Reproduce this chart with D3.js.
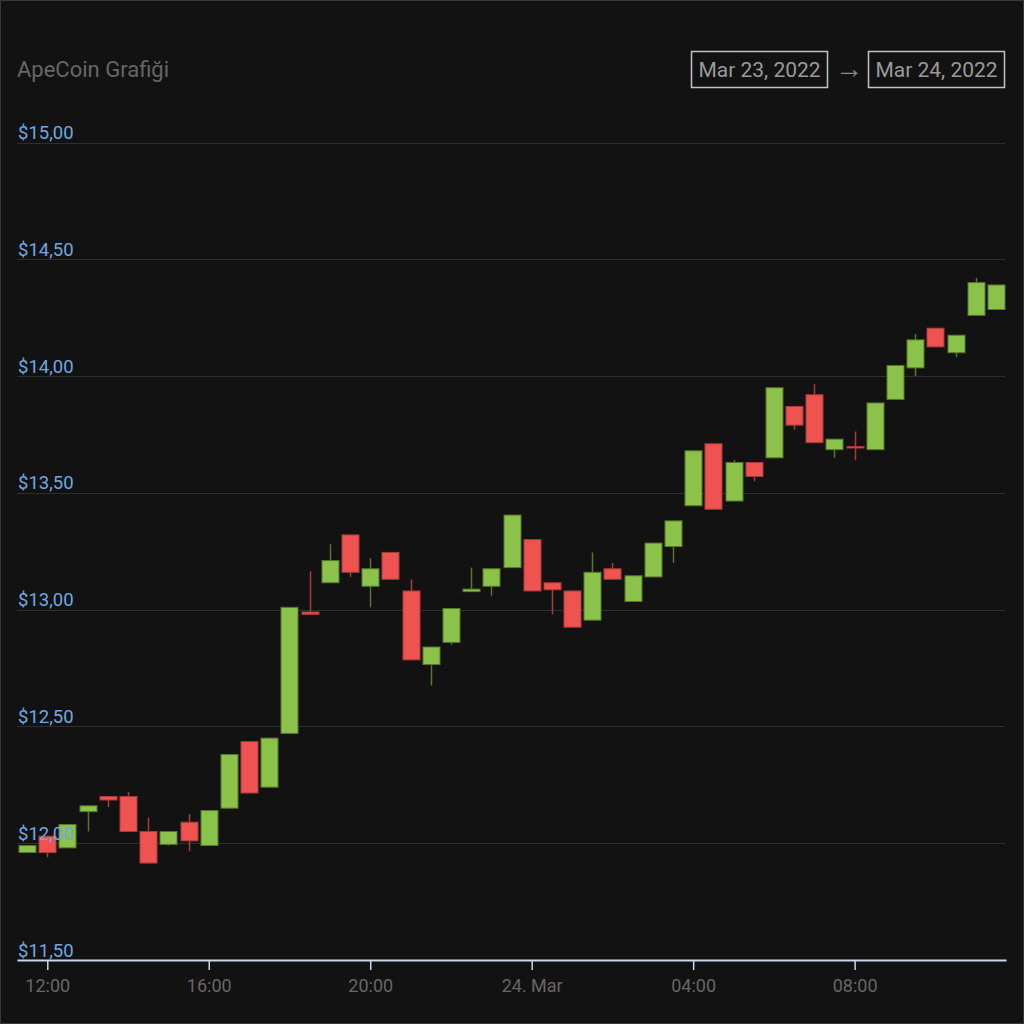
<!DOCTYPE html>
<html><head><meta charset="utf-8">
<script src="https://cdn.jsdelivr.net/npm/d3@7"></script>
<style>
html,body{margin:0;padding:0;background:#121212;}
svg{display:block;font-family:Roboto,"Noto Sans",sans-serif;}
</style></head>
<body>
<svg id="chart" width="1024" height="1024"></svg>
<script>
const title = "ApeCoin Grafiği";
const rangeFrom = "Mar 23, 2022";
const rangeTo = "Mar 24, 2022";

const times = [
 "2022-03-23T11:30","2022-03-23T12:00","2022-03-23T12:30","2022-03-23T13:00","2022-03-23T13:30",
 "2022-03-23T14:00","2022-03-23T14:30","2022-03-23T15:00","2022-03-23T15:30","2022-03-23T16:00",
 "2022-03-23T16:30","2022-03-23T17:00","2022-03-23T17:30","2022-03-23T18:00","2022-03-23T18:30",
 "2022-03-23T19:00","2022-03-23T19:30","2022-03-23T20:00","2022-03-23T20:30","2022-03-23T21:00",
 "2022-03-23T21:30","2022-03-23T22:00","2022-03-23T22:30","2022-03-23T23:00","2022-03-23T23:30",
 "2022-03-24T00:00","2022-03-24T00:30","2022-03-24T01:00","2022-03-24T01:30","2022-03-24T02:00",
 "2022-03-24T02:30","2022-03-24T03:00","2022-03-24T03:30","2022-03-24T04:00","2022-03-24T04:30",
 "2022-03-24T05:00","2022-03-24T05:30","2022-03-24T06:00","2022-03-24T06:30","2022-03-24T07:00",
 "2022-03-24T07:30","2022-03-24T08:00","2022-03-24T08:30","2022-03-24T09:00","2022-03-24T09:30",
 "2022-03-24T10:00","2022-03-24T10:30","2022-03-24T11:00","2022-03-24T11:30"
];
const open = [11.96,12.03,11.98,12.135,12.20,12.20,12.05,11.995,12.09,11.99,
 12.15,12.435,12.24,12.47,12.99,13.115,13.32,13.10,13.245,13.08,
 12.765,12.86,13.077,13.10,13.18,13.30,13.115,13.08,12.955,13.175,
 13.035,13.14,13.27,13.445,13.71,13.465,13.63,13.65,13.87,13.92,
 13.685,13.698,13.685,13.90,14.035,14.205,14.10,14.26,14.285];
const high = [11.99,12.03,12.08,12.16,12.20,12.22,12.11,12.05,12.125,12.14,
 12.38,12.435,12.45,13.01,13.165,13.28,13.32,13.22,13.245,13.13,
 12.84,13.005,13.18,13.175,13.405,13.30,13.115,13.08,13.245,13.20,
 13.145,13.285,13.38,13.68,13.71,13.64,13.63,13.95,13.87,13.965,
 13.73,13.763,13.885,14.045,14.18,14.205,14.175,14.42,14.39];
const low = [11.96,11.94,11.98,12.05,12.155,12.05,11.915,11.99,11.965,11.99,
 12.15,12.215,12.24,12.47,12.98,13.115,13.14,13.01,13.13,12.785,
 12.675,12.85,13.077,13.06,13.18,13.08,12.98,12.925,12.955,13.13,
 13.035,13.14,13.20,13.445,13.43,13.465,13.55,13.65,13.77,13.715,
 13.65,13.64,13.685,13.90,14.00,14.125,14.08,14.26,14.285];
const close = [11.99,11.96,12.08,12.16,12.185,12.05,11.915,12.05,12.01,12.14,
 12.38,12.215,12.45,13.01,12.98,13.21,13.16,13.175,13.13,12.785,
 12.84,13.005,13.088,13.175,13.405,13.08,13.085,12.925,13.16,13.13,
 13.145,13.285,13.38,13.68,13.43,13.63,13.57,13.95,13.79,13.715,
 13.73,13.692,13.885,14.045,14.155,14.125,14.175,14.40,14.39];

const yTicks = [11.5,12,12.5,13,13.5,14,14.5,15];
const xTickTimes = ["2022-03-23T12:00","2022-03-23T16:00","2022-03-23T20:00","2022-03-24T00:00","2022-03-24T04:00","2022-03-24T08:00"];
const xTickLabels = ["12:00","16:00","20:00","24. Mar","04:00","08:00"];
const xDomain = ["2022-03-23T11:15","2022-03-24T11:45"];

const parse = d3.timeParse("%Y-%m-%dT%H:%M");
const data = times.map((t,i)=>({t:parse(t),o:open[i],h:high[i],l:low[i],c:close[i]}));

const svg = d3.select("#chart");
svg.append("rect").attr("x",0.5).attr("y",0.5).attr("width",1023).attr("height",1023)
  .attr("fill","#121212").attr("stroke","#3a3a3a");

const plotL = 17, plotR = 1006, plotT = 142.5, plotB = 960;
const x = d3.scaleTime().domain(xDomain.map(parse)).range([plotL,plotR]);
const y = d3.scaleLinear().domain([11.5,15]).range([plotB,plotT]);

// title
svg.append("text").attr("x",17).attr("y",77).attr("fill","#666")
  .attr("font-size",22).text(title);

// range selector boxes
const boxes = [{x:691.5,text:rangeFrom},{x:868.5,text:rangeTo}];
boxes.forEach(b=>{
  svg.append("rect").attr("x",b.x).attr("y",51.5).attr("width",136).attr("height",36)
    .attr("fill","none").attr("stroke","#c4c4c4").attr("stroke-width",1.5);
  svg.append("text").attr("x",b.x+68).attr("y",77).attr("text-anchor","middle")
    .attr("fill","#9a9a9a").attr("font-size",21).text(b.text);
});
svg.append("text").attr("x",849).attr("y",78).attr("text-anchor","middle")
  .attr("fill","#8a8a8a").attr("font-size",28).text("→");

// grid
const grid = svg.append("g");
grid.selectAll("line").data(yTicks.filter(v=>v>11.5)).join("line")
  .attr("x1",plotL).attr("x2",plotR-1)
  .attr("y1",d=>Math.round(y(d))+0.5).attr("y2",d=>Math.round(y(d))+0.5)
  .attr("stroke","#2e2e2e").attr("stroke-width",1);

// x axis
const xAxis = d3.axisBottom(x)
  .tickValues(xTickTimes.map(parse))
  .tickFormat((d,i)=>xTickLabels[i])
  .tickSize(10).tickSizeOuter(0);
const gx = svg.append("g").attr("transform",`translate(0,${plotB})`).call(xAxis);
gx.select(".domain").attr("stroke","#ccd6eb").attr("stroke-width",2);
gx.selectAll(".tick line").attr("stroke","#ccd6eb").attr("stroke-width",1.5);
gx.selectAll(".tick text").attr("fill","#666").attr("font-size",18)
  .attr("font-family","Roboto,sans-serif").attr("dy","0.55em").attr("y",22);

// candles
const green = "#8bc34a", greenDark = "#57772a", red = "#ef5350", redDark = "#a63c3a";
const bw = 17;
const g = svg.append("g");
const cand = g.selectAll("g").data(data).join("g");
cand.append("line")
  .attr("x1",d=>Math.round(x(d.t))+0.5).attr("x2",d=>Math.round(x(d.t))+0.5)
  .attr("y1",d=>y(d.h)).attr("y2",d=>y(d.l))
  .attr("stroke",d=>d.c>=d.o?greenDark:redDark).attr("stroke-width",1.5);
cand.append("rect")
  .attr("x",d=>Math.round(x(d.t))-8)
  .attr("y",d=>y(Math.max(d.o,d.c)))
  .attr("width",bw)
  .attr("height",d=>Math.max(0.5,Math.abs(y(d.o)-y(d.c))))
  .attr("fill",d=>d.c>=d.o?green:red)
  .attr("stroke",d=>d.c>=d.o?greenDark:redDark)
  .attr("stroke-width",1);

// y labels (above series)
const fmt = v => "$" + v.toFixed(2).replace(".",",");
svg.append("g").selectAll("text").data(yTicks).join("text")
  .attr("x",18).attr("y",d=>y(d)-3.5)
  .attr("fill","#6fa8e0").attr("font-size",18.5)
  .text(fmt);
</script>
</body></html>
